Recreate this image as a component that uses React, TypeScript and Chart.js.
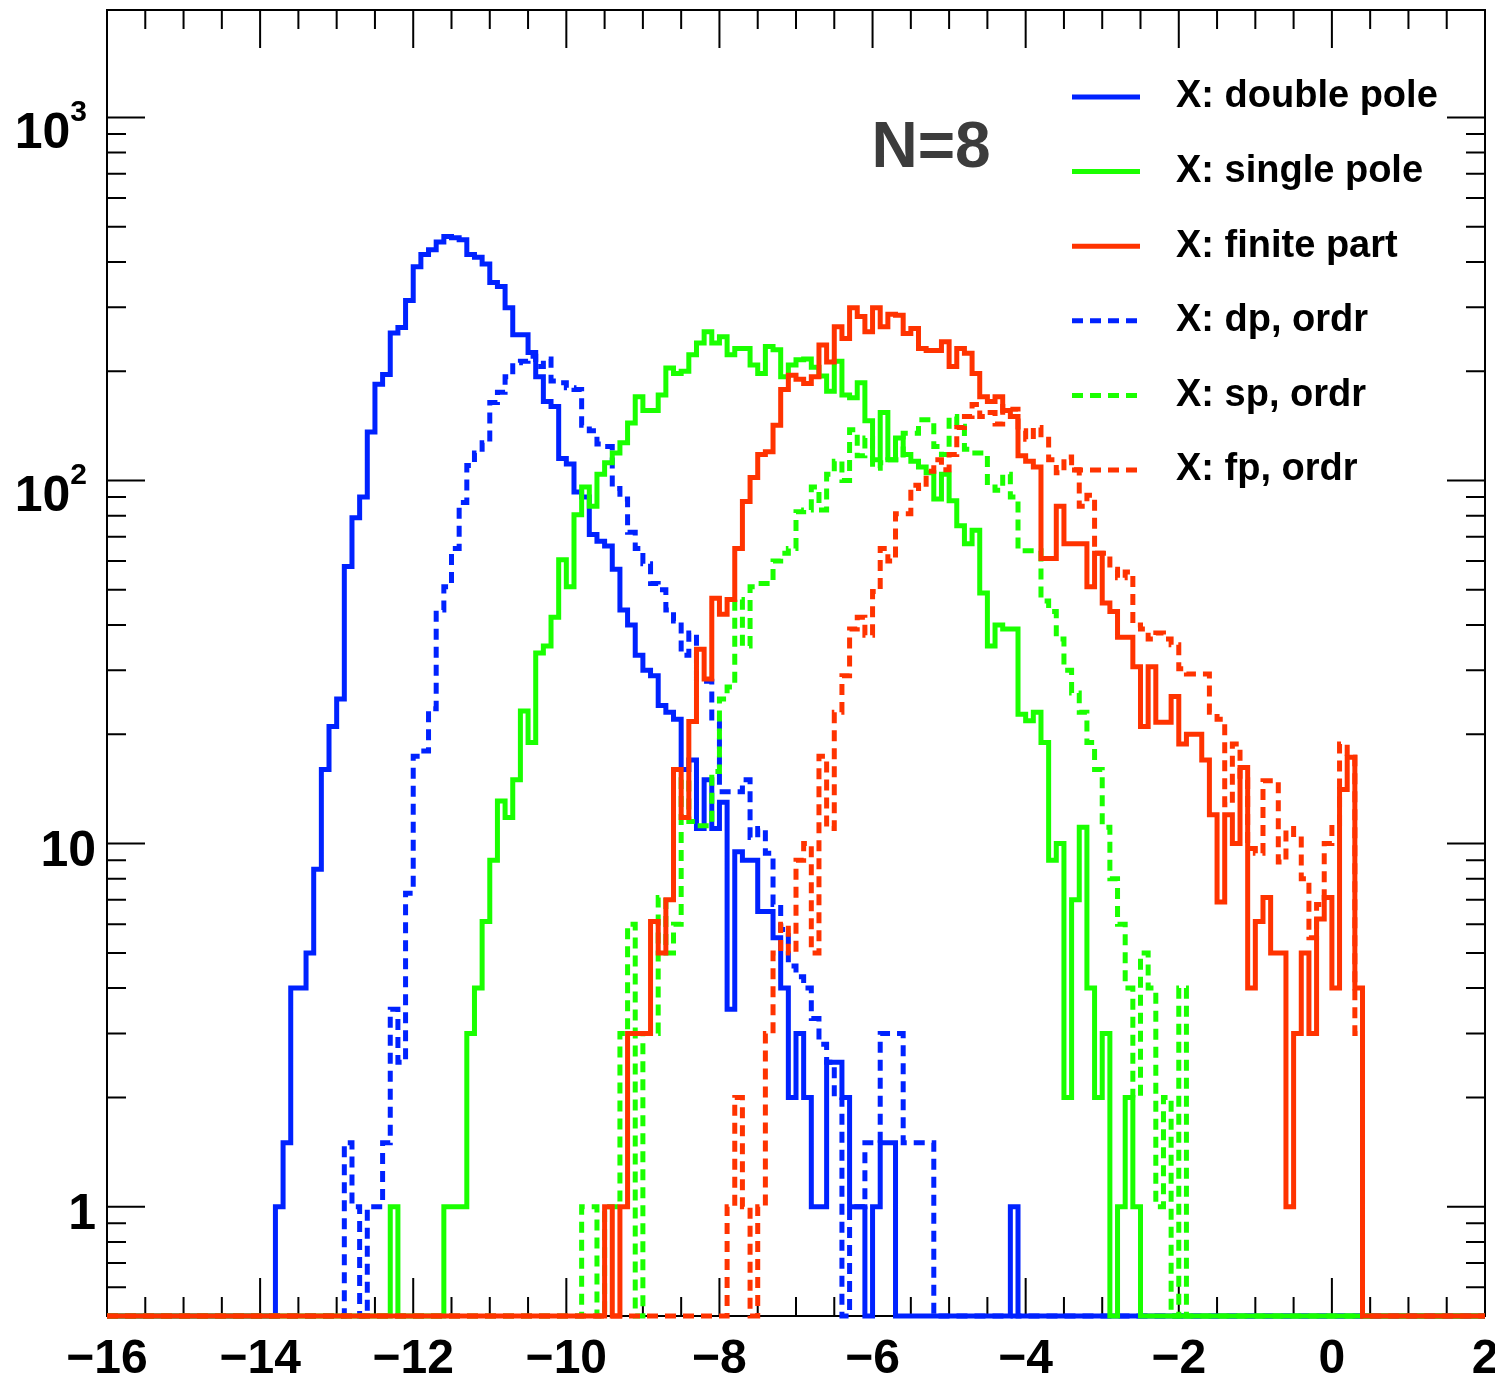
import React, { useEffect, useRef } from 'react';
import { Chart, registerables } from 'chart.js';

Chart.register(...registerables);

// ---------- axis definition ----------
const X_MIN = -16;
const X_MAX = 2;
const BIN_WIDTH = 0.1;
const Y_MIN = 0.5;
const Y_MAX = 1976;
const X_TICK_LABELS = [-16, -14, -12, -10, -8, -6, -4, -2, 0, 2];
const X_MINOR_STEP = 0.5;
const Y_TICK_LABELS = [1, 10, 100, 1000];

// ---------- series ----------
const seriesLabels = [
  'X: double pole',
  'X: single pole',
  'X: finite part',
  'X: dp, ordr',
  'X: sp, ordr',
  'X: fp, ordr',
];

// X: double pole (first bin lower edge = dpStart)
const dpStart = -13.8;
const dpValues = [
  1, 1.5, 4, 4, 5, 8.5, 16, 21, 25, 58,
  79, 90, 136, 184, 196, 255, 264, 313, 388, 419,
  432, 454, 470, 466, 460, 419, 412, 395, 351, 342,
  299, 252, 252, 225, 193, 165, 160, 115, 111, 93,
  90, 71, 68, 66, 57, 44, 40, 33, 30, 29,
  24, 23, 22, 16, 17, 11, 15, 11, 13, 3.5,
  9.5, 9, 9, 6.5, 6.5, 5.5, 4, 2, 3, 2,
  1, 1, 2.5, 2.5, 2, 1, 1, 0, 1, 1.5,
  1.5, 0, 0, 0, 0, 0, 0, 0, 0, 0,
  0, 0, 0, 0, 0, 0, 1,
];

// X: single pole
const spStart = -12.3;
const spValues = [
  1, 0, 0, 0, 0, 0, 0, 1, 1, 1,
  3, 4, 6.1, 9, 13.1, 11.8, 15, 23.2, 19, 33.5,
  35, 42, 60.5, 51, 80.5, 96, 85, 104, 112, 119,
  127, 144, 170, 156, 156, 172, 204, 197, 200, 222,
  239, 257, 239, 249, 222, 231, 231, 208, 197, 234,
  229, 193, 208, 215, 216, 205, 194, 176, 213, 172,
  169, 186, 146, 114, 154, 114, 131, 118, 113, 109,
  105, 89, 104, 88, 75, 67, 73, 49, 35, 40,
  39, 39, 22.7, 21.8, 23, 19, 9, 10, 2, 7,
  11.1, 4, 2, 3, 0, 1, 2, 1,
];

// X: finite part
const fpStart = -9.5;
const fpValues = [
  1, 0, 1, 3, 3, 3, 6.1, 5, 7, 16,
  11.8, 21.7, 34.3, 28.4, 47.4, 42.8, 47, 65, 87.6, 102,
  118, 120, 142, 178, 195, 190, 185, 193, 236, 212,
  265, 246, 299, 283, 257, 299, 265, 287, 285, 254,
  262, 231, 228, 228, 241, 206, 231, 224, 197, 170,
  165, 170, 156, 150, 117, 113, 109, 61, 61, 85,
  67, 67, 67, 51, 63, 46, 43.6, 37, 37, 30.7,
  21, 30.7, 21.6, 21.6, 25.4, 18.8, 20, 20, 17, 12,
  6.9, 12, 10, 16.2, 4, 6.1, 7.1, 5, 5, 1,
  3, 5, 3, 6.2, 7.1, 4, 14.1, 17.3, 4,
];

// X: dp, ordr
const dpoStart = -12.9;
const dpoValues = [
  1.5, 1, 0, 1, 1, 1.5, 3.5, 2.5, 7.3, 17.4,
  18, 23.5, 44, 51, 65, 87, 110, 119, 127, 164,
  175, 193, 211, 213, 220, 206, 216, 188, 186, 180,
  178, 142, 137, 126, 124, 95, 89, 72, 65, 59,
  52, 50, 44, 41, 33, 38, 28, 28, 21.6, 13.9,
  13.9, 13.9, 15, 10.4, 11, 9.4, 6.8, 5.8, 4.6, 4.3,
  4, 3.3, 2.8, 2.5, 2, 0, 1, 1, 1.5, 1.5,
  3, 3, 3, 1.5, 1.5, 1.5, 1.5,
];

// X: sp, ordr
const spoStart = -9.8;
const spoValues = [
  1, 1, 0, 1, 1, 3, 6, 0, 3, 3,
  7.1, 5, 6, 15, 11.5, 11.2, 11.2, 15.8, 25, 27,
  47, 35, 51, 52, 52, 60, 63, 65, 82, 83,
  96, 83, 104, 113, 100, 138, 117, 131, 108, 112,
  114, 114, 135, 135, 147, 147, 124, 118, 150, 141,
  122, 119, 119, 96, 94, 104, 90, 64, 64, 64,
  46.6, 43.6, 36.6, 30, 26, 23, 19, 16, 11.1, 8,
  6, 4, 2, 5, 4, 1, 2, 0, 4,
];

// X: fp, ordr
const fpoStart = -7.9;
const fpoValues = [
  1, 2, 1, 0, 1, 3, 5, 6, 5, 9,
  10, 5, 17.4, 11, 23, 29, 39, 42, 37.5, 49.5,
  65, 60, 81, 81, 97, 95, 106, 114, 107, 118,
  140, 150, 162, 150, 154, 143, 160, 157, 137, 130,
  140, 130, 114, 105, 116, 107, 85, 91, 63, 63,
  57, 54, 56, 40, 39, 36.6, 38, 36.6, 35.3, 30.3,
  29.3, 29.3, 29.3, 23, 22, 12.8, 18.8, 15, 9.7, 9.4,
  14.9, 14.9, 8.9, 11, 10.3, 8, 5.5, 6.8, 10, 11.3,
  18.8, 17.3, 3,
];

// ---------- styling ----------
const BLUE = 'rgb(0, 34, 255)';
const GREEN = 'rgb(26, 255, 0)';
const RED = 'rgb(255, 51, 0)';
const LINE_W = 5;
const DASH = [11, 7];
const FONT = '"Liberation Sans", Arial, Helvetica, sans-serif';

// Build histogram outline points (bin lower edges, plus the final upper edge).
// Empty bins are drawn on the frame bottom, as ROOT does on a log axis.
function histPoints(start: number, values: number[]) {
  const nBins = Math.round((X_MAX - X_MIN) / BIN_WIDTH);
  const offset = Math.round((start - X_MIN) / BIN_WIDTH);
  const pts: { x: number; y: number }[] = [];
  for (let i = 0; i < nBins; i++) {
    const k = i - offset;
    const v = k >= 0 && k < values.length ? values[k] : 0;
    pts.push({ x: X_MIN + i * BIN_WIDTH, y: v > 0 ? v : Y_MIN });
  }
  pts.push({ x: X_MAX, y: pts[nBins - 1].y });
  return pts;
}

const seriesDefs = [
  { start: dpStart, values: dpValues, color: BLUE, dashed: false, order: 4 },
  { start: spStart, values: spValues, color: GREEN, dashed: false, order: 2 },
  { start: fpStart, values: fpValues, color: RED, dashed: false, order: 1 },
  { start: dpoStart, values: dpoValues, color: BLUE, dashed: true, order: 5 },
  { start: spoStart, values: spoValues, color: GREEN, dashed: true, order: 3 },
  { start: fpoStart, values: fpoValues, color: RED, dashed: true, order: 0 },
];

const rootDecor = {
  id: 'rootDecor',
  beforeDatasetsDraw(chart: any) {
    const { ctx, chartArea: a, scales } = chart;
    const xs = scales.x;
    const ys = scales.y;
    ctx.save();
    ctx.strokeStyle = '#000';
    ctx.lineWidth = 2;
    ctx.setLineDash([]);
    ctx.beginPath();
    const nMinor = Math.round((X_MAX - X_MIN) / X_MINOR_STEP);
    for (let i = 0; i <= nMinor; i++) {
      const v = X_MIN + i * X_MINOR_STEP;
      const px = xs.getPixelForValue(v);
      const major = X_TICK_LABELS.some((t) => Math.abs(t - v) < 1e-6);
      const len = major ? 38 : 19;
      ctx.moveTo(px, a.bottom);
      ctx.lineTo(px, a.bottom - len);
      ctx.moveTo(px, a.top);
      ctx.lineTo(px, a.top + len);
    }
    for (let d = -1; d <= 3; d++) {
      for (let m = 1; m <= 9; m++) {
        const v = m * Math.pow(10, d);
        if (v < Y_MIN || v > Y_MAX) continue;
        const py = ys.getPixelForValue(v);
        const len = m === 1 ? 38 : 19;
        ctx.moveTo(a.left, py);
        ctx.lineTo(a.left + len, py);
        ctx.moveTo(a.right, py);
        ctx.lineTo(a.right - len, py);
      }
    }
    ctx.stroke();
    ctx.strokeRect(a.left, a.top, a.right - a.left, a.bottom - a.top);
    ctx.restore();
  },
  afterDraw(chart: any) {
    const { ctx, chartArea: a, scales } = chart;
    const xs = scales.x;
    const ys = scales.y;
    ctx.save();
    ctx.fillStyle = '#000';
    // x labels
    ctx.font = `bold 48px ${FONT}`;
    ctx.textAlign = 'center';
    ctx.textBaseline = 'alphabetic';
    X_TICK_LABELS.forEach((t) => {
      const px = xs.getPixelForValue(t);
      const s = t < 0 ? '\u2212' + Math.abs(t) : String(t);
      ctx.fillText(s, px, a.bottom + 57);
    });
    // y labels
    Y_TICK_LABELS.forEach((t) => {
      const py = ys.getPixelForValue(t);
      const exp = Math.round(Math.log10(t));
      if (exp >= 2) {
        ctx.font = `bold 30px ${FONT}`;
        ctx.textAlign = 'right';
        const supW = ctx.measureText(String(exp)).width;
        ctx.fillText(String(exp), 87, py + 4);
        ctx.font = `bold 50px ${FONT}`;
        ctx.fillText('10', 87 - supW, py + 31);
      } else {
        ctx.font = `bold 50px ${FONT}`;
        ctx.textAlign = 'right';
        ctx.fillText(String(t), 96, py + 22);
      }
    });
    // N=8
    ctx.font = `bold 64px ${FONT}`;
    ctx.fillStyle = '#3c3c3c';
    ctx.textAlign = 'center';
    ctx.fillText('N=8', 931, 167);
    // legend
    const LEG_X0 = 1072;
    const LEG_X1 = 1140;
    const LEG_TX = 1176;
    const LEG_Y0 = 97;
    const LEG_DY = 74.6;
    chart.data.datasets.forEach((ds: any, i: number) => {
      const y = LEG_Y0 + i * LEG_DY;
      ctx.save();
      ctx.strokeStyle = ds.borderColor;
      ctx.lineWidth = ds.borderWidth;
      ctx.setLineDash(ds.borderDash || []);
      ctx.beginPath();
      ctx.moveTo(LEG_X0, y);
      ctx.lineTo(LEG_X1, y);
      ctx.stroke();
      ctx.restore();
      ctx.font = `bold 38px ${FONT}`;
      ctx.fillStyle = '#000';
      ctx.textAlign = 'left';
      ctx.textBaseline = 'middle';
      ctx.fillText(ds.label, LEG_TX, y);
    });
    ctx.restore();
  },
};

export default function App() {
  const ref = useRef<HTMLCanvasElement | null>(null);
  useEffect(() => {
    if (!ref.current) return;
    const datasets = seriesDefs.map((s, i) => ({
      label: seriesLabels[i],
      data: histPoints(s.start, s.values),
      borderColor: s.color,
      backgroundColor: s.color,
      borderWidth: LINE_W,
      borderDash: s.dashed ? DASH : [],
      borderCapStyle: 'butt',
      borderJoinStyle: 'miter',
      stepped: true,
      pointRadius: 0,
      fill: false,
      tension: 0,
      clip: false,
      order: s.order,
    }));
    const chart = new Chart(ref.current, {
      type: 'line',
      data: { datasets } as any,
      options: {
        animation: false,
        responsive: false,
        devicePixelRatio: 1,
        events: [],
        parsing: false,
        normalized: true,
        layout: { padding: { left: 107, right: 10, top: 10, bottom: 61 } },
        scales: {
          x: { type: 'linear', min: X_MIN, max: X_MAX, display: false },
          y: { type: 'logarithmic', min: Y_MIN, max: Y_MAX, display: false },
        },
        plugins: {
          legend: { display: false },
          tooltip: { enabled: false },
          title: { display: false },
        },
      } as any,
      plugins: [rootDecor],
    });
    return () => chart.destroy();
  }, []);
  return (
    <div style={{ position: 'absolute', left: 0, top: 0, width: 1495, height: 1377, background: '#fff' }}>
      <canvas ref={ref} width={1495} height={1377} style={{ display: 'block', width: 1495, height: 1377 }} />
    </div>
  );
}
